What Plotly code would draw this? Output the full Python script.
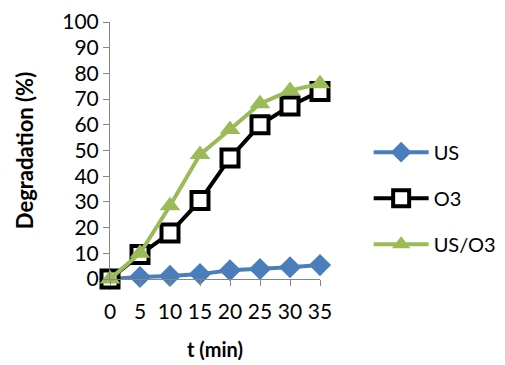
import plotly.graph_objects as go

t = [0, 5, 10, 15, 20, 25, 30, 35]
us = [0, 0.8, 1.2, 1.9, 3.4, 3.9, 4.6, 5.4]
o3 = [0, 9.5, 17.9, 30.5, 47.1, 60.0, 67.3, 73.0]
us_o3 = [0, 10.0, 28.5, 48.4, 58.2, 68.2, 73.3, 76.0]

FONT = "Lato"

fig = go.Figure()
fig.add_trace(go.Scatter(
    x=t, y=us, name="US", mode="lines+markers", legendgroup="a",
    line=dict(color="#4A7EBB", width=4),
    marker=dict(symbol="diamond", size=17, color="#4A7EBB"),
    cliponaxis=False))
fig.add_trace(go.Scatter(
    x=t, y=o3, name="O3", mode="lines+markers", legendgroup="b",
    line=dict(color="#000000", width=4),
    marker=dict(symbol="square", size=17, color="white",
                line=dict(color="#000000", width=4)),
    cliponaxis=False))
fig.add_trace(go.Scatter(
    x=t, y=us_o3, name="US/O3", mode="lines+markers", legendgroup="c",
    line=dict(color="#9BBB59", width=4),
    marker=dict(symbol="triangle-up", size=18, color="#9BBB59"),
    cliponaxis=False))

fig.update_layout(
    width=505, height=365,
    margin=dict(l=110, r=185, t=22, b=86, autoexpand=False),
    paper_bgcolor="white", plot_bgcolor="white",
    font=dict(family=FONT, size=21, color="black"),
    legend=dict(x=0.73, y=0.457, xref="container", yref="container",
                xanchor="left", yanchor="middle",
                font=dict(size=20), tracegroupgap=17, itemwidth=55,
                traceorder="grouped", bgcolor="rgba(0,0,0,0)"),
    xaxis=dict(range=[0, 35], tickvals=t, ticktext=[str(v) for v in t],
               showgrid=False, zeroline=False, showline=True,
               linecolor="#868686", linewidth=1,
               ticks="outside", ticklen=6, tickcolor="#868686",
               tickfont=dict(size=21), ticklabelstandoff=8,
               title=dict(text="<b>t (min)</b>", font=dict(size=20), standoff=20)),
    yaxis=dict(range=[0, 100], tickvals=list(range(0, 101, 10)),
               showgrid=False, zeroline=False, showline=True,
               linecolor="#868686", linewidth=1,
               ticks="outside", ticklen=6, tickcolor="#868686",
               tickfont=dict(size=21),
               title=dict(text="<b>Degradation (%)</b>", font=dict(size=22), standoff=22)),
)

fig.write_html("out.html")
